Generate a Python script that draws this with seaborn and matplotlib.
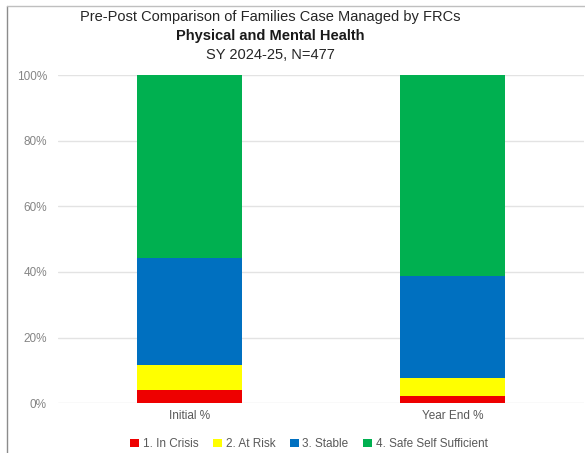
import matplotlib
matplotlib.use("Agg")
import matplotlib.pyplot as plt
from matplotlib.patches import Patch
from matplotlib.lines import Line2D
import numpy as np
import pandas as pd
import seaborn as sns

# Share of families at each level (percent of N=477)
periods = ["Initial %", "Year End %"]
levels = ["1. In Crisis", "2. At Risk", "3. Stable", "4. Safe Self Sufficient"]
in_crisis = [4.2, 2.1]
at_risk = [7.5, 5.7]
stable = [32.5, 31.0]
safe_self_sufficient = [55.8, 61.2]
colors = ["#EE0000", "#FFFF00", "#0070C0", "#00B050"]
y_ticks = [0, 20, 40, 60, 80, 100]
y_tick_labels = ["0%", "20%", "40%", "60%", "80%", "100%"]

sns.set_theme(style="white")
plt.rcParams["font.family"] = ["Liberation Sans", "DejaVu Sans"]

df = pd.DataFrame({
    "period": periods,
    levels[0]: in_crisis,
    levels[1]: at_risk,
    levels[2]: stable,
    levels[3]: safe_self_sufficient,
})
cum = df[levels].cumsum(axis=1)

W, H = 585, 453
fig = plt.figure(figsize=(W / 100, H / 100), dpi=100)
x0, x1, y_top, y_bot = 58, 584, 75, 403.3
ax = fig.add_axes([x0 / W, (H - y_bot) / H, (x1 - x0) / W, (y_bot - y_top) / H])

# Stack by overlaying cumulative totals, tallest first
for lvl, col in reversed(list(zip(levels, colors))):
    sns.barplot(x=df["period"], y=cum[lvl], color=col, width=0.4,
                saturation=1, ax=ax, zorder=3, linewidth=0)

ax.set_xlim(-0.5, 1.5)
ax.set_ylim(0, 100)
ax.set_yticks(y_ticks)
ax.set_yticklabels(y_tick_labels)
ax.yaxis.grid(True, color="#E3E3E3", linewidth=1.0, zorder=0)
ax.set_axisbelow(True)
for s in ax.spines.values():
    s.set_visible(False)
ax.set_xlabel("")
ax.set_ylabel("")
ax.tick_params(axis="both", length=0, labelsize=8.5)
ax.tick_params(axis="y", pad=8, labelcolor="#858585")
ax.tick_params(axis="x", pad=5, labelcolor="#595959")

# Title block
tx = 270 / W
fig.text(tx, 1 - 17 / H, "Pre-Post Comparison of Families Case Managed by FRCs",
         ha="center", va="center", fontsize=10.5, color="#262626")
fig.text(tx, 1 - 36 / H, "Physical and Mental Health", ha="center", va="center",
         fontsize=10.5, fontweight="bold", color="#1a1a1a")
fig.text(tx, 1 - 55 / H, "SY 2024-25, N=477", ha="center", va="center",
         fontsize=10.5, color="#262626")

# Legend
handles = [Patch(facecolor=c, edgecolor="none", label=l) for l, c in zip(levels, colors)]
fig.legend(handles=handles, loc="center", bbox_to_anchor=(309 / W, 1 - 444 / H),
           ncol=4, frameon=False, fontsize=8.5, labelcolor="#595959",
           handlelength=0.75, handleheight=0.75, handletextpad=0.3,
           columnspacing=1.25)

# Frame edges along the left and top
fig.add_artist(Line2D([7 / W, 7 / W], [0, 1 - 6 / H], transform=fig.transFigure,
                      color="#8c8c8c", linewidth=1.0))
fig.add_artist(Line2D([7 / W, 1], [1 - 6 / H, 1 - 6 / H], transform=fig.transFigure,
                      color="#bfbfbf", linewidth=1.0))

fig.savefig("out.png", dpi=100, facecolor="white")
